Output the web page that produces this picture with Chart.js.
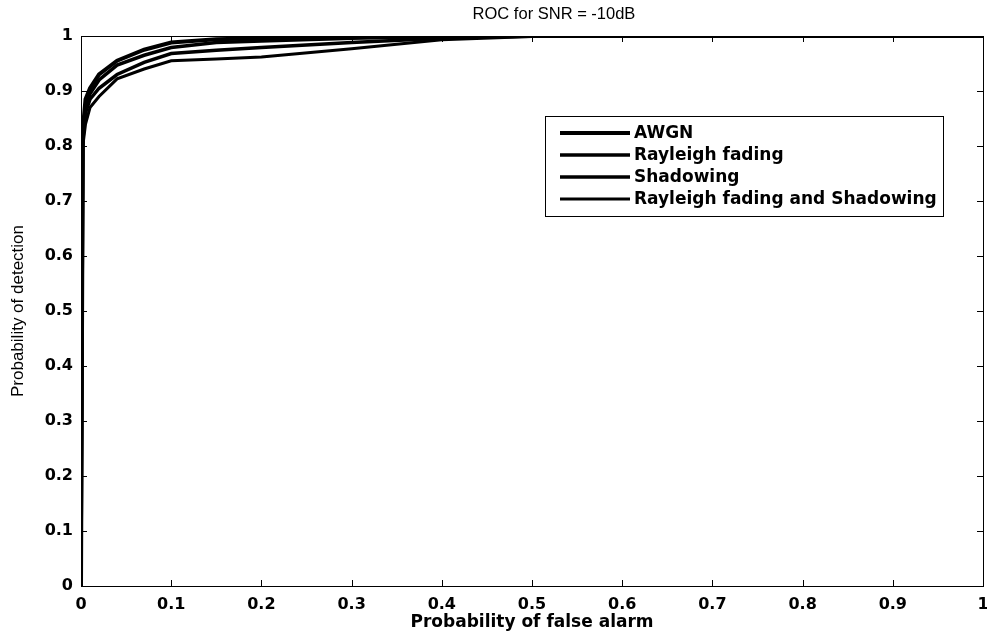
<!DOCTYPE html>
<html>
<head>
<meta charset="utf-8">
<title>ROC for SNR = -10dB</title>
<script src="https://cdn.jsdelivr.net/npm/chart.js@4/dist/chart.umd.min.js"></script>
<style>
  html, body { margin: 0; padding: 0; background: #fff; }
  canvas { display: block; }
</style>
</head>
<body>
<canvas id="chartRoc" width="987" height="638"></canvas>
<script>
// probabilidad de falsa alarma (eje x)
const pfa = [0, 0.002, 0.005, 0.01, 0.02, 0.04, 0.07, 0.1, 0.15, 0.2, 0.3, 0.4, 0.5, 0.6, 0.8, 1];

// probabilidad de deteccion para cada canal
const pdAwgn     = [0, 0.83, 0.885, 0.905, 0.93, 0.955, 0.975, 0.988, 0.994, 0.996, 0.998, 0.999, 1, 1, 1, 1];
const pdRayleigh = [0, 0.82, 0.87, 0.895, 0.92, 0.947, 0.965, 0.979, 0.988, 0.991, 0.996, 0.999, 1, 1, 1, 1];
const pdShadow   = [0, 0.81, 0.86, 0.885, 0.905, 0.93, 0.952, 0.968, 0.974, 0.979, 0.988, 0.996, 1, 1, 1, 1];
const pdRaySha   = [0, 0.80, 0.84, 0.87, 0.89, 0.922, 0.94, 0.955, 0.958, 0.962, 0.977, 0.993, 0.999, 1, 1, 1];

const etiquetas = ["AWGN", "Rayleigh fading", "Shadowing", "Rayleigh fading and Shadowing"];
const series = [pdAwgn, pdRayleigh, pdShadow, pdRaySha];
const grosores = [4, 3.5, 3.5, 3];

const titulo = "ROC for SNR = -10dB";

const fuente = "'Liberation Sans', Arial, sans-serif";
const fuenteAncha = "'DejaVu Sans', Verdana, sans-serif";

const puntos = (ys) => pfa.map((x, i) => ({ x: x, y: ys[i] }));
const formatoTick = (v) => String(Number(v.toFixed(1)));

// ============================
// titulo + caja + ticks hacia adentro (estilo MATLAB)
// ============================
const cajaEjes = {
  id: "cajaEjes",
  afterDraw(chart) {
    const { ctx, chartArea: a, scales } = chart;
    const largo = 6;
    ctx.save();
    ctx.fillStyle = "#000";
    ctx.font = "16.5px " + fuente;
    ctx.textAlign = "center";
    ctx.textBaseline = "middle";
    ctx.fillText(titulo, 554, 14);

    ctx.strokeStyle = "#000";
    ctx.lineWidth = 1;
    ctx.strokeRect(a.left + 0.5, a.top + 0.5, a.right - a.left, a.bottom - a.top);
    ctx.beginPath();
    scales.x.ticks.forEach(t => {
      const px = Math.round(scales.x.getPixelForValue(t.value)) + 0.5;
      ctx.moveTo(px, a.bottom); ctx.lineTo(px, a.bottom - largo);
      ctx.moveTo(px, a.top); ctx.lineTo(px, a.top + largo);
    });
    scales.y.ticks.forEach(t => {
      const py = Math.round(scales.y.getPixelForValue(t.value)) + 0.5;
      ctx.moveTo(a.left, py); ctx.lineTo(a.left + largo, py);
      ctx.moveTo(a.right, py); ctx.lineTo(a.right - largo, py);
    });
    ctx.stroke();
    ctx.restore();
  }
};

// ============================
// leyenda dentro del area
// ============================
const leyendaInterna = {
  id: "leyendaInterna",
  afterDatasetsDraw(chart) {
    const { ctx } = chart;
    const x0 = 545, y0 = 116, ancho = 398, alto = 100;
    const filaY = [133, 155, 177, 199];
    ctx.save();
    ctx.fillStyle = "#fff";
    ctx.fillRect(x0, y0, ancho, alto);
    ctx.strokeStyle = "#000";
    ctx.lineWidth = 1;
    ctx.strokeRect(x0 + 0.5, y0 + 0.5, ancho, alto);
    ctx.font = "bold 17px " + fuenteAncha;
    ctx.textBaseline = "middle";
    ctx.fillStyle = "#000";
    chart.data.datasets.forEach((ds, i) => {
      ctx.beginPath();
      ctx.lineWidth = ds.borderWidth;
      ctx.moveTo(560, filaY[i]);
      ctx.lineTo(630, filaY[i]);
      ctx.stroke();
      ctx.fillText(ds.label, 634, filaY[i] + 1);
    });
    ctx.restore();
  }
};

new Chart(document.getElementById("chartRoc"), {
  type: "scatter",
  data: {
    datasets: series.map((ys, i) => ({
      label: etiquetas[i],
      data: puntos(ys),
      showLine: true,
      borderColor: "#000",
      backgroundColor: "#000",
      borderWidth: grosores[i],
      pointRadius: 0,
      tension: 0
    }))
  },
  options: {
    responsive: false,
    animation: false,
    layout: { padding: { left: 0, right: 4, top: 36, bottom: 0 } },
    plugins: {
      legend: { display: false },
      tooltip: { enabled: false },
      title: { display: false }
    },
    scales: {
      x: {
        type: "linear",
        min: 0,
        max: 1,
        afterFit: s => { s.height = 52; s.paddingRight = 0; s.paddingLeft = 0; },
        grid: { display: false, drawTicks: false },
        border: { display: false },
        ticks: {
          stepSize: 0.1,
          padding: 9,
          color: "#000",
          maxRotation: 0,
          callback: formatoTick,
          font: { family: fuenteAncha, size: 16, weight: "bold" }
        },
        title: {
          display: true,
          text: "Probability of false alarm",
          color: "#000",
          font: { family: fuenteAncha, size: 17, weight: "bold" },
          padding: { top: 0, bottom: 4.8 }
        }
      },
      y: {
        type: "linear",
        min: 0,
        max: 1,
        afterFit: s => { s.width = 81; s.paddingTop = 0; s.paddingBottom = 0; },
        grid: { display: false, drawTicks: false },
        border: { display: false },
        ticks: {
          stepSize: 0.1,
          padding: 8,
          color: "#000",
          callback: formatoTick,
          font: { family: fuenteAncha, size: 16, weight: "bold" }
        },
        title: {
          display: true,
          text: "Probability of detection",
          color: "#000",
          font: { family: fuente, size: 17 },
          padding: { top: 8, bottom: 0 }
        }
      }
    }
  },
  plugins: [cajaEjes, leyendaInterna]
});
</script>
</body>
</html>
